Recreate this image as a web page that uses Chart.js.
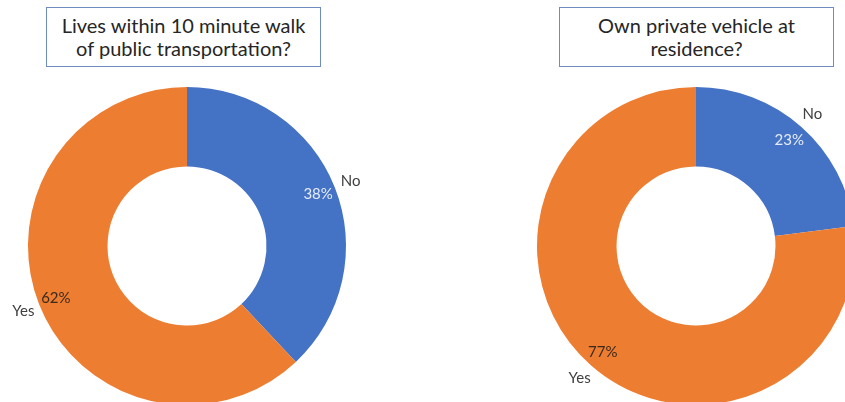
<!DOCTYPE html>
<html>
<head>
<meta charset="utf-8">
<script src="https://cdn.jsdelivr.net/npm/chart.js@4.4.0/dist/chart.umd.min.js"></script>
<style>
  html, body { margin: 0; padding: 0; background: #fff; }
  body { width: 845px; height: 402px; overflow: hidden; position: relative; font-family: Lato, sans-serif; }
  .titulo {
    position: absolute; top: 7px; width: 273px; height: 58px;
    border: 1px solid #6f8cc0; box-sizing: content-box;
    display: flex; align-items: center; justify-content: center; text-align: center;
    font-size: 20px; line-height: 23px; color: #262626;
  }
  .grafico { position: absolute; top: 0; height: 420px; }
</style>
</head>
<body>
<div class="titulo" style="left:46px">Lives within 10 minute walk<br>of public transportation?</div>
<div class="titulo" style="left:559px">Own private vehicle at<br>residence?</div>
<div class="grafico" style="left:0; width:420px"><canvas id="transporteChart"></canvas></div>
<div class="grafico" style="left:425px; width:440px"><canvas id="vehiculoChart"></canvas></div>
<script>
// Categorías y porcentajes de cada pregunta
const categorias = ['No', 'Yes'];
const transporte = [38, 62];
const vehiculo = [23, 77];
const colores = ['#4472c4', '#ed7d31'];
const coloresPct = ['#e6ecf7', '#3b2a1c'];

// Etiquetas: porcentaje dentro del anillo y categoría por fuera
const etiquetasPlugin = {
    id: 'etiquetas',
    afterDatasetsDraw(chart) {
        const ctx = chart.ctx;
        const meta = chart.getDatasetMeta(0);
        ctx.save();
        ctx.textAlign = 'center';
        ctx.textBaseline = 'middle';
        ctx.font = '15px Lato, sans-serif';
        meta.data.forEach((arco, i) => {
            const { x, y, startAngle, endAngle, outerRadius } = arco.getProps(['x', 'y', 'startAngle', 'endAngle', 'outerRadius'], true);
            const medio = (startAngle + endAngle) / 2;
            const rPct = outerRadius * 0.887;
            const rCat = outerRadius * 1.107;
            ctx.fillStyle = coloresPct[i];
            ctx.fillText(chart.data.datasets[0].data[i] + '%', x + Math.cos(medio) * rPct, y + Math.sin(medio) * rPct);
            ctx.fillStyle = '#404040';
            ctx.fillText(chart.data.labels[i], x + Math.cos(medio) * rCat, y + Math.sin(medio) * rCat);
        });
        ctx.restore();
    }
};

function crearDona(id, datos, padding) {
    return new Chart(document.getElementById(id).getContext('2d'), {
        type: 'doughnut',
        data: {
            labels: categorias,
            datasets: [{
                data: datos,
                backgroundColor: colores,
                borderWidth: 0
            }]
        },
        options: {
            responsive: true,
            maintainAspectRatio: false,
            animation: false,
            cutout: '50%',
            layout: { padding: padding },
            plugins: {
                legend: { display: false },
                tooltip: { enabled: false }
            }
        },
        plugins: [etiquetasPlugin]
    });
}

crearDona('transporteChart', transporte, { left: 28, right: 74, top: 87, bottom: 15 });
crearDona('vehiculoChart', vehiculo, { left: 112, right: 10, top: 87, bottom: 15 });
</script>
</body>
</html>
